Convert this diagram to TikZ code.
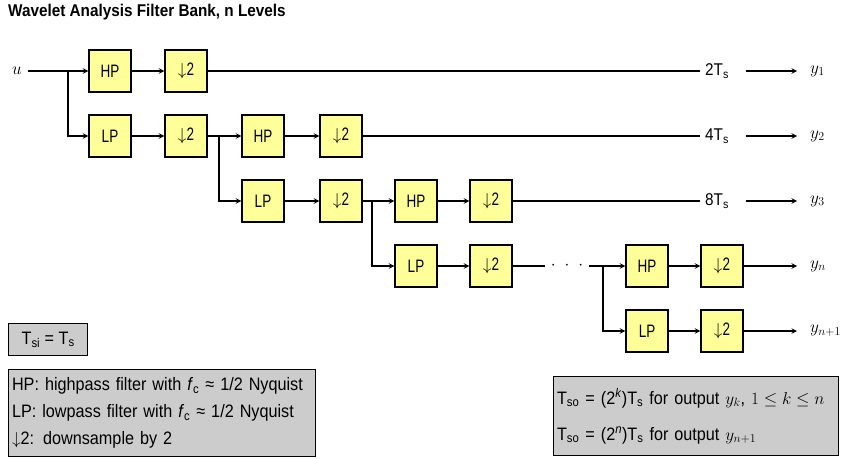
\documentclass[tikz,border=0pt]{standalone}
\usepackage{fontspec}
\setmainfont{Liberation Sans}[FakeStretch=0.9]
\newfontfamily\boxfont{Liberation Sans}[FakeStretch=0.75]
\usetikzlibrary{arrows,positioning}
\definecolor{boxyellow}{RGB}{255,255,153}
\definecolor{notegray}{RGB}{204,204,204}

\begin{document}
\begin{tikzpicture}[
    x=1pt, y=-1pt,
    filt/.style={rectangle, draw=black, fill=boxyellow, line width=1.4pt,
                 minimum width=42pt, minimum height=42pt, inner sep=0pt,
                 font=\boxfont\fontsize{18}{20}\selectfont},
    wire/.style={line width=1.4pt},
    arrow/.style={->, line width=1.4pt, >=stealth},
    rate/.style={anchor=west, inner xsep=5pt, font=\fontsize{17}{20}\selectfont},
    outlbl/.style={anchor=west, inner xsep=13pt, inner ysep=0pt, font=\fontsize{18}{20}\selectfont},
    note/.style={rectangle, draw=black, fill=notegray, line width=1.4pt, align=left,
                 anchor=north west, font=\fontsize{18}{27}\selectfont}
]
\useasboundingbox (0,0) rectangle (849,458);

% Title
\node[anchor=west, inner sep=0pt, font=\bfseries\fontsize{17}{20}\selectfont] (title) at (8,12)
     {Wavelet Analysis Filter Bank, n Levels};

% Input
\node[anchor=west, inner xsep=6pt, inner ysep=0pt, font=\fontsize{18}{20}\selectfont] (u) at (6,71) {$u$};

% Filter and downsample blocks
\node[filt] (hp1) at (110,71) {HP};
\node[filt] (ds1) at (186,71) {$\downarrow$2};
\node[filt] (lp1) at (110,136) {LP};
\node[filt] (ds2) at (186,136) {$\downarrow$2};
\node[filt] (hp2) at (263,136) {HP};
\node[filt] (ds3) at (341,136) {$\downarrow$2};
\node[filt] (lp2) at (263,201) {LP};
\node[filt] (ds4) at (341,201) {$\downarrow$2};
\node[filt] (hp3) at (416,201) {HP};
\node[filt] (ds5) at (491,201) {$\downarrow$2};
\node[filt] (lp3) at (416,266) {LP};
\node[filt] (ds6) at (491,266) {$\downarrow$2};
\node[filt] (hp4) at (647,266) {HP};
\node[filt] (ds7) at (722,266) {$\downarrow$2};
\node[filt] (lp4) at (647,331) {LP};
\node[filt] (ds8) at (722,331) {$\downarrow$2};

% Branch points
\coordinate (br1) at (68,71);
\coordinate (br2) at (219,136);
\coordinate (br3) at (372,201);
\coordinate (br4) at (603,266);
\node[inner xsep=6pt, font=\fontsize{17}{20}\selectfont] (dots) at (567,266)
     {$\cdot$\hspace{9pt}$\cdot$\hspace{9pt}$\cdot$};

% Sample time labels and outputs
\node[rate] (t1) at (700,71) {2T\textsubscript{s}};
\node[rate] (t2) at (700,136) {4T\textsubscript{s}};
\node[rate] (t3) at (700,201) {8T\textsubscript{s}};
\node[outlbl] (y1) at (797,71) {$y_1$};
\node[outlbl] (y2) at (797,136) {$y_2$};
\node[outlbl] (y3) at (797,201) {$y_3$};
\node[outlbl] (yn) at (797,266) {$y_n$};
\node[outlbl] (yn1) at (797,331) {$y_{n+1}$};

% Level 1
\draw[arrow] (u) -- (hp1);
\draw[arrow] (br1) |- (lp1);
\draw[arrow] (hp1) -- (ds1);
\draw[wire] (ds1) -- (t1);
\draw[arrow, shorten <=12pt] (t1) -- (y1);
\draw[arrow] (lp1) -- (ds2);

% Level 2
\draw[arrow] (ds2) -- (hp2);
\draw[arrow] (br2) |- (lp2);
\draw[arrow] (hp2) -- (ds3);
\draw[wire] (ds3) -- (t2);
\draw[arrow, shorten <=12pt] (t2) -- (y2);
\draw[arrow] (lp2) -- (ds4);

% Level 3
\draw[arrow] (ds4) -- (hp3);
\draw[arrow] (br3) |- (lp3);
\draw[arrow] (hp3) -- (ds5);
\draw[wire] (ds5) -- (t3);
\draw[arrow, shorten <=12pt] (t3) -- (y3);
\draw[arrow] (lp3) -- (ds6);

% Level n
\draw[wire] (ds6) -- (dots);
\draw[arrow] (dots) -- (hp4);
\draw[arrow] (br4) |- (lp4);
\draw[arrow] (hp4) -- (ds7);
\draw[arrow] (ds7) -- (yn);
\draw[arrow] (lp4) -- (ds8);
\draw[arrow] (ds8) -- (yn1);

% Notes
\node[note, minimum width=79pt, minimum height=32pt] (tsi) at (8,323)
     {T\textsubscript{si} = T\textsubscript{s}};
\node[note, text width=300pt, minimum height=87pt] (key) at (8,369)
     {HP: highpass filter with \textit{f}\textsubscript{c} ≈ 1/2 Nyquist\\
      LP: lowpass filter with \textit{f}\textsubscript{c} ≈ 1/2 Nyquist\\
      $\downarrow$2: downsample by 2};
\node[note, text width=278pt, minimum height=79pt, font=\fontsize{18}{20}\selectfont] (rates) at (553,376)
     {T\textsubscript{so} = (2\textsuperscript{\textit{k}})T\textsubscript{s} for output $y_k$, $1 \le k \le n$\\[16pt]
      T\textsubscript{so} = (2\textsuperscript{\textit{n}})T\textsubscript{s} for output $y_{n+1}$};

\end{tikzpicture}
\end{document}
